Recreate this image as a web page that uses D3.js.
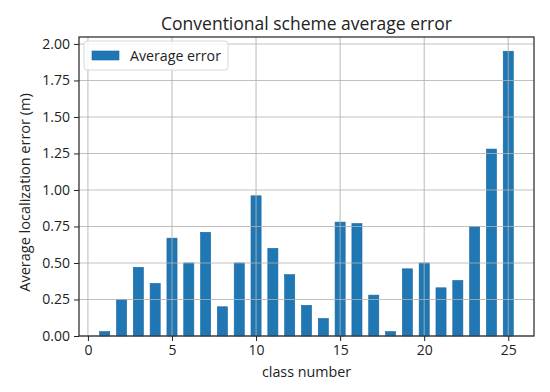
<!DOCTYPE html>
<html>
<head>
<meta charset="utf-8">
<script src="https://cdn.jsdelivr.net/npm/d3@7"></script>
<style>
  body { margin: 0; background: #fff; }
  text { font-family: "Open Sans", "DejaVu Sans", sans-serif; fill: #222; }
</style>
</head>
<body>
<svg width="550" height="392"></svg>
<script>
// class numbers and average localization error
var classes = d3.range(1, 26);
var avgError = [0.03, 0.25, 0.47, 0.36, 0.67, 0.50, 0.71, 0.20, 0.50, 0.96,
                0.60, 0.42, 0.21, 0.12, 0.78, 0.77, 0.28, 0.03, 0.46, 0.50,
                0.33, 0.38, 0.75, 1.28, 1.95];
var yTicks = [0, 0.25, 0.5, 0.75, 1.0, 1.25, 1.5, 1.75, 2.0];
var xTicks = [0, 5, 10, 15, 20, 25];

var BAR_W = 0.6;
var marge = {top: 37, right: 16, bottom: 56, left: 79};
var svg = d3.select("svg");
var width = +svg.attr("width") - marge.left - marge.right;
var height = +svg.attr("height") - marge.top - marge.bottom;
var g = svg.append("g")
    .attr("transform", "translate(" + marge.left + "," + marge.top + ")");

// matplotlib style 5% margins
var lo = 1 - BAR_W / 2, hi = 25 + BAR_W / 2, pad = (hi - lo) * 0.05;
var x = d3.scaleLinear().domain([lo - pad, hi + pad]).range([0, width]);
var ymax = d3.max(avgError) * 1.05;
var y = d3.scaleLinear().domain([0, ymax]).range([height, 0]);

// bars
g.append("g")
    .selectAll("rect")
    .data(avgError)
    .enter()
    .append("rect")
    .attr("x", function(d, i) { return x(classes[i] - BAR_W / 2); })
    .attr("width", function(d, i) { return x(BAR_W) - x(0); })
    .attr("y", function(d) { return y(d); })
    .attr("height", function(d) { return y(0) - y(d); })
    .attr("fill", "#1f77b4")
    .attr("stroke", "#1a65a0")
    .attr("stroke-width", 0.6);

// grid on top of the bars
var grid = g.append("g").attr("stroke", "#b0b0b0").attr("stroke-opacity", 0.8).attr("stroke-width", 1.1);
grid.selectAll(".gx").data(xTicks).enter().append("line")
    .attr("x1", function(d) { return x(d); }).attr("x2", function(d) { return x(d); })
    .attr("y1", 0).attr("y2", height);
grid.selectAll(".gy").data(yTicks).enter().append("line")
    .attr("y1", function(d) { return y(d); }).attr("y2", function(d) { return y(d); })
    .attr("x1", 0).attr("x2", width);

// axes
var xAxis = g.append("g")
    .attr("transform", "translate(0," + height + ")")
    .call(d3.axisBottom(x).tickValues(xTicks).tickSize(5).tickPadding(4));
var yAxis = g.append("g")
    .call(d3.axisLeft(y).tickValues(yTicks).tickFormat(d3.format(".2f")).tickSize(5).tickPadding(4));
[xAxis, yAxis].forEach(function(a) {
    a.select(".domain").remove();
    a.selectAll("line").attr("stroke", "#222");
    a.selectAll("text").attr("font-size", 14).attr("fill", "#222")
        .style("font-family", "'Open Sans', 'DejaVu Sans', sans-serif");
});

// frame
g.append("rect")
    .attr("width", width).attr("height", height)
    .attr("fill", "none").attr("stroke", "#222").attr("stroke-width", 1.2);

// title and labels
svg.append("text")
    .attr("x", marge.left + width / 2).attr("y", 30)
    .attr("text-anchor", "middle").attr("font-size", 17.5)
    .text("Conventional scheme average error");
svg.append("text")
    .attr("x", marge.left + width / 2).attr("y", 377)
    .attr("text-anchor", "middle").attr("font-size", 14.3)
    .text("class number");
svg.append("text")
    .attr("transform", "translate(30," + (marge.top + height / 2 + 6) + ") rotate(-90)")
    .attr("text-anchor", "middle").attr("font-size", 14.5)
    .text("Average localization error (m)");

// legend
var lg = g.append("g").attr("transform", "translate(5,4)");
lg.append("rect")
    .attr("width", 144).attr("height", 29).attr("rx", 3)
    .attr("fill", "#fff").attr("fill-opacity", 0.85)
    .attr("stroke", "#d8d8d8");
lg.append("rect")
    .attr("x", 8).attr("y", 10).attr("width", 27).attr("height", 9)
    .attr("fill", "#1f77b4").attr("stroke", "#1a65a0").attr("stroke-width", 0.6);
lg.append("text")
    .attr("x", 46).attr("y", 20).attr("font-size", 14.2)
    .text("Average error");
</script>
</body>
</html>
